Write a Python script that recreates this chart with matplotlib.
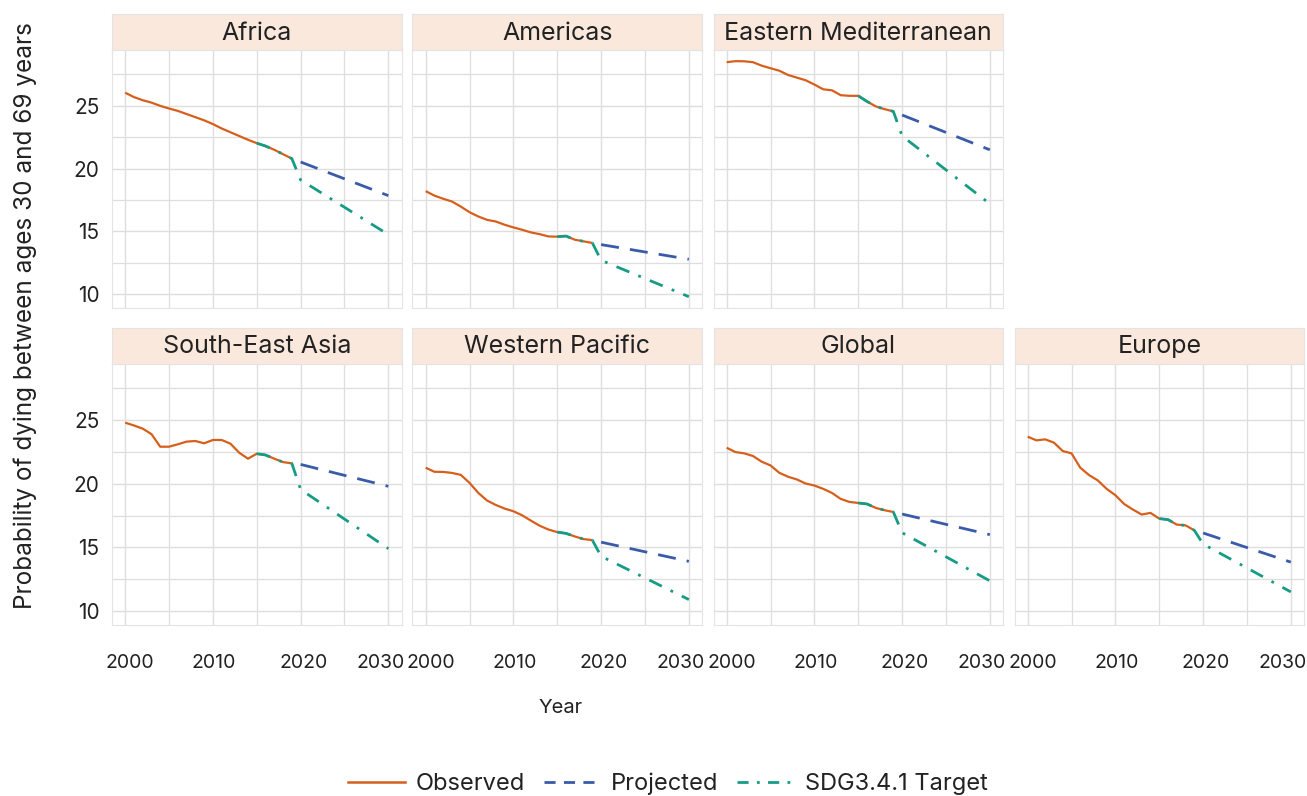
import matplotlib
matplotlib.use("Agg")
import matplotlib.pyplot as plt
import matplotlib.transforms as mtransforms
from matplotlib.lines import Line2D
from matplotlib.ticker import MultipleLocator

plt.rcParams['font.family'] = ['Inter', 'DejaVu Sans']

years_obs = list(range(2000, 2020))
years_proj = [2020, 2030]
years_overlap = [2015, 2016, 2017, 2018, 2019]

regions = ["Africa", "Americas", "Eastern Mediterranean",
           "South-East Asia", "Western Pacific", "Global", "Europe"]

africa_obs = [26.05, 25.70, 25.45, 25.26, 25.00, 24.79, 24.60, 24.35, 24.10, 23.85,
              23.55, 23.20, 22.90, 22.60, 22.30, 22.03, 21.80, 21.50, 21.15, 20.80]
americas_obs = [18.21, 17.85, 17.60, 17.38, 16.98, 16.53, 16.19, 15.92, 15.79, 15.53,
                15.32, 15.13, 14.92, 14.78, 14.60, 14.58, 14.63, 14.34, 14.21, 14.08]
emr_obs = [28.48, 28.56, 28.55, 28.48, 28.20, 28.00, 27.80, 27.46, 27.25, 27.04,
           26.70, 26.32, 26.24, 25.85, 25.80, 25.80, 25.35, 24.96, 24.74, 24.56]
sea_obs = [24.80, 24.58, 24.33, 23.90, 22.91, 22.91, 23.10, 23.31, 23.36, 23.18,
           23.44, 23.44, 23.15, 22.44, 21.97, 22.36, 22.26, 21.97, 21.70, 21.60]
wpr_obs = [21.26, 20.94, 20.93, 20.85, 20.70, 20.07, 19.28, 18.68, 18.33, 18.05,
           17.84, 17.52, 17.10, 16.70, 16.40, 16.20, 16.10, 15.86, 15.65, 15.57]
global_obs = [22.83, 22.49, 22.39, 22.18, 21.73, 21.44, 20.86, 20.55, 20.34, 20.02,
              19.86, 19.60, 19.28, 18.81, 18.57, 18.49, 18.41, 18.10, 17.92, 17.78]
europe_obs = [23.70, 23.41, 23.49, 23.23, 22.57, 22.39, 21.26, 20.68, 20.26, 19.60,
              19.10, 18.41, 17.97, 17.58, 17.71, 17.26, 17.18, 16.79, 16.73, 16.34]

africa_proj = [20.53, 17.85]
americas_proj = [13.95, 12.78]
emr_proj = [24.27, 21.50]
sea_proj = [21.52, 19.80]
wpr_proj = [15.41, 13.90]
global_proj = [17.62, 16.00]
europe_proj = [16.13, 13.84]

africa_target = [19.10, 14.75]
americas_target = [12.70, 9.80]
emr_target = [22.60, 17.20]
sea_target = [19.55, 14.90]
wpr_target = [14.30, 10.90]
global_target = [16.15, 12.37]
europe_target = [15.26, 11.50]

observed = [africa_obs, americas_obs, emr_obs, sea_obs, wpr_obs, global_obs, europe_obs]
projected = [africa_proj, americas_proj, emr_proj, sea_proj, wpr_proj, global_proj, europe_proj]
target = [africa_target, americas_target, emr_target, sea_target, wpr_target,
          global_target, europe_target]

x_ticks = [2000, 2010, 2020, 2030]
x_labels = ["2000", "2010", "2020", "2030"]
y_ticks = [10, 15, 20, 25]

C_OBS = "#D75F1C"
C_PROJ = "#3A5BA9"
C_TGT = "#169C84"
STRIP = "#FAE8DC"
GRID = "#DEDEDE"
TXT = "#222222"

W, H = 1307, 796
fig = plt.figure(figsize=(W / 100, H / 100), dpi=100)

col_left = [112, 412.5, 713.5, 1014.5]
pw = 289.5
row_top = [50, 363.5]
row_bot = [308, 625]
strip_h = 36
label_shift_px = [5, 1, 3, -8]

positions = [(0, 0), (0, 1), (0, 2), (1, 0), (1, 1), (1, 2), (1, 3)]

for i, name in enumerate(regions):
    r, c = positions[i]
    x0 = col_left[c]
    ax = fig.add_axes([x0 / W, 1 - row_bot[r] / H, pw / W, (row_bot[r] - row_top[r]) / H])
    sax = fig.add_axes([x0 / W, 1 - row_top[r] / H, pw / W, strip_h / H])
    sax.set_facecolor(STRIP)
    sax.set_xticks([]); sax.set_yticks([])
    for s in sax.spines.values():
        s.set_color("#E4E4E4"); s.set_linewidth(0.8)
    sax.text(0.5, 0.47, name, ha="center", va="center", fontsize=18, color=TXT,
             transform=sax.transAxes)

    ax.set_xlim(1998.5, 2031.5)
    ax.set_ylim(8.9, 29.45)
    ax.set_xticks(x_ticks)
    ax.xaxis.set_minor_locator(MultipleLocator(5))
    ax.set_yticks(y_ticks)
    ax.yaxis.set_minor_locator(MultipleLocator(2.5))
    ax.grid(True, which="major", color=GRID, lw=1.0)
    ax.grid(True, which="minor", color=GRID, lw=0.9)
    ax.set_axisbelow(True)
    for s in ax.spines.values():
        s.set_color("#E4E4E4"); s.set_linewidth(0.8)
    ax.tick_params(which="both", length=0)
    ax.tick_params(axis="y", labelsize=15, pad=9, labelcolor=TXT)
    ax.tick_params(axis="x", labelsize=14, pad=21, labelcolor=TXT)
    if c != 0:
        ax.set_yticklabels([])
    if r == 0:
        ax.set_xticklabels([])
    else:
        ax.set_xticklabels(x_labels)
        for lab, dx in zip(ax.get_xticklabels(), label_shift_px):
            off = mtransforms.ScaledTranslation(dx / 100, 0, fig.dpi_scale_trans)
            lab.set_transform(lab.get_transform() + off)

    obs = observed[i]
    ax.plot(years_obs, obs, color=C_OBS, lw=1.6, solid_capstyle="butt", zorder=3)
    ax.plot(years_proj, projected[i], color=C_PROJ, lw=2.0, dashes=(6.5, 4), zorder=4)
    tgt_x = years_overlap + years_proj
    tgt_y = obs[-5:] + target[i]
    ax.plot(tgt_x, tgt_y, color=C_TGT, lw=2.0, dashes=(5, 3.5, 1, 3.5), zorder=4)

fig.text(25 / W, 1 - 316 / H, "Probability of dying between ages 30 and 69 years",
         rotation=90, ha="center", va="center", fontsize=17.5, color=TXT)
fig.text(561 / W, 1 - 708 / H, "Year", ha="center", va="center", fontsize=14.5,
         color=TXT)

handles = [Line2D([], [], color=C_OBS, lw=1.8),
           Line2D([], [], color=C_PROJ, lw=2.0, dashes=(4, 3)),
           Line2D([], [], color=C_TGT, lw=2.0, dashes=(4, 3, 1, 3))]
fig.legend(handles, ["Observed", "Projected", "SDG3.4.1 Target"], loc="center",
           bbox_to_anchor=(668 / W, 1 - 784 / H), ncol=3, frameon=False,
           fontsize=17, handlelength=2.4, handletextpad=0.45, columnspacing=0.8,
           labelcolor=TXT)

fig.savefig("out.png", dpi=100)
